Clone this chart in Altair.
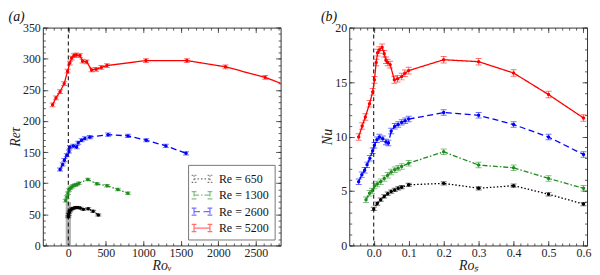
import altair as alt
import pandas as pd

SERIF = "Liberation Serif"
SERIES = ["Re = 650", "Re = 1300", "Re = 2600", "Re = 5200"]
COLORS = ["#000000", "#1e8c1e", "#0000ff", "#ff0000"]
DASHES = [[1.5, 2], [5, 2, 1.5, 2], [6, 3.5], [1, 0]]

# ---- panel (a): Ro_V vs Re_tau ----
a650_x = [0, 5, 15, 30, 50, 75, 100, 130, 160, 200, 265, 330, 400]
a650_y = [46, 50, 54, 57, 59, 60, 61, 61, 60, 58, 59, 55, 49]
a1300_x = [-35, -20, -5, 10, 25, 45, 65, 90, 115, 140, 260, 380, 515, 660, 795]
a1300_y = [72, 78, 84, 89, 92, 94, 96, 97, 98, 100, 106, 99, 96, 90, 84]
a2600_x = [-110, -75, -53, -21, 9, 22, 66, 111, 132, 177, 221, 287, 530, 795, 1040, 1300, 1570]
a2600_y = [122, 130, 137, 145, 151, 158, 160, 158, 165, 169, 172, 174, 178, 176, 169, 160, 148]
a5200_x = [-210, -165, -110, -55, -10, 20, 45, 75, 105, 155, 190, 245, 310, 370, 440, 515,
           1035, 1580, 2095, 2625, 3150]
a5200_y = [226, 237, 247, 260, 280, 293, 301, 305, 306, 305, 296, 295, 282, 283, 286, 289,
           297, 297, 287, 270, 246]
a_err = [1.5, 2, 2.5, 3]
shade_x = [-35, 35]
shade_y = [0, 70]

# ---- panel (b): Ro_S vs Nu ----
b650_x = [0.0, 0.01, 0.02, 0.03, 0.04, 0.05, 0.06, 0.07, 0.08, 0.1, 0.2, 0.3, 0.4, 0.5, 0.6]
b650_y = [3.35, 3.85, 4.2, 4.5, 4.75, 4.95, 5.1, 5.25, 5.35, 5.57, 5.7, 5.25, 5.49, 4.7, 3.8]
b1300_x = [-0.022, -0.012, -0.005, 0.002, 0.01, 0.02, 0.03, 0.04, 0.05, 0.06, 0.07, 0.08,
           0.1, 0.2, 0.3, 0.4, 0.5, 0.6]
b1300_y = [4.2, 4.8, 5.0, 5.45, 5.65, 5.85, 6.15, 6.45, 6.75, 6.95, 7.1, 7.25,
           7.55, 8.6, 7.38, 7.13, 6.15, 5.25]
b2600_x = [-0.043, -0.034, -0.026, -0.019, -0.011, -0.003, 0.002, 0.009, 0.016, 0.026, 0.035,
           0.042, 0.05, 0.06, 0.07, 0.08, 0.09, 0.1, 0.2, 0.3, 0.4, 0.5, 0.6]
b2600_y = [5.85, 6.5, 6.9, 7.4, 8.0, 8.7, 9.2, 9.7, 9.95, 9.8, 9.5,
           9.4, 10.5, 10.95, 11.1, 11.3, 11.45, 11.6, 12.2, 11.95, 11.1, 9.95, 8.35]
b5200_x = [-0.043, -0.033, -0.024, -0.012, -0.003, 0.002, 0.007, 0.011, 0.016, 0.024, 0.03,
           0.035, 0.04, 0.047, 0.059, 0.068, 0.08, 0.089, 0.1, 0.2, 0.3, 0.4, 0.5, 0.6]
b5200_y = [9.96, 10.97, 11.8, 13.0, 14.1, 15.2, 16.8, 17.7, 17.95, 18.2, 17.6,
           17.0, 16.8, 16.6, 15.2, 15.3, 15.5, 15.8, 16.05, 17.05, 16.87, 15.83, 13.85, 11.7]
b_err = [0.15, 0.25, 0.25, 0.3]

zero_x = [0]

a_xmaj = [0, 500, 1000, 1500, 2000, 2500]
a_xmin = list(range(-300, 2900, 100))
a_ymaj = [0, 50, 100, 150, 200, 250, 300, 350]
a_ymin = list(range(0, 360, 10))
b_xmaj = [0.0, 0.1, 0.2, 0.3, 0.4, 0.5, 0.6]
b_xmin = [round(-0.06 + 0.02 * i, 2) for i in range(34)]
b_ymaj = [0, 5, 10, 15, 20]
b_ymin = list(range(0, 21))

LEG_PATH = ("M-1,-0.45V0.45M-1.3,-0.45H-0.7M-1.3,0.45H-0.7M-1,0H1"
            "M1,-0.45V0.45M0.7,-0.45H1.3M0.7,0.45H1.3")


def frame(xs_list, ys_list, errs):
    rows = []
    for name, xs, ys, e in zip(SERIES, xs_list, ys_list, errs):
        for x, y in zip(xs, ys):
            rows.append(dict(series=name, x=x, y=y, lo=y - e, hi=y + e))
    return pd.DataFrame(rows)


def axis(orient, values, major, labels=False, title=None, fmt=None):
    kw = dict(orient=orient, values=values, grid=False, domain=False, ticks=True,
              tickSize={"expr": "-5" if major else "-2.5"}, tickColor="#333",
              tickWidth=0.8, labels=labels, title=title)
    if labels:
        kw.update(labelPadding=7.5, labelFont=SERIF, labelFontSize=12, labelColor="#222",
                  titleFont=SERIF, titleFontSize=14, titleFontStyle="italic",
                  titleFontWeight="normal", titleColor="#222", titlePadding=0)
        if fmt:
            kw["format"] = fmt
    return alt.Axis(**kw)


def color_enc(cscale, legend, main):
    if main:
        return alt.Color("series:N", scale=cscale, sort=SERIES, legend=legend)
    if legend is None:
        return alt.Color("series:N", scale=cscale, sort=SERIES, legend=None)
    return alt.Color("series:N", scale=cscale, sort=SERIES)


def panel(df, xdom, ydom, xmaj, xmin, ymaj, ymin, xtitle, ytitle, xfmt, label,
          legend, extra):
    xs = alt.Scale(domain=xdom, nice=False, zero=False)
    ys = alt.Scale(domain=ydom, nice=False, zero=False)
    cscale = alt.Scale(domain=SERIES, range=COLORS)
    dscale = alt.Scale(domain=SERIES, range=DASHES)
    base = alt.Chart(df)

    lines = base.mark_line(strokeWidth=1.3, clip=True).encode(
        x=alt.X("x:Q", scale=xs, axis=axis("bottom", xmaj, True, True, xtitle, xfmt)),
        y=alt.Y("y:Q", scale=ys, axis=axis("left", ymaj, True, True, ytitle)),
        color=color_enc(cscale, legend, True),
        strokeDash=alt.StrokeDash("series:N", scale=dscale, sort=SERIES, legend=legend),
        order="x:Q",
    )
    pts = base.mark_point(filled=True, size=12, opacity=1, clip=True).encode(
        x=alt.X("x:Q", scale=xs, axis=axis("bottom", xmin, False)),
        y=alt.Y("y:Q", scale=ys, axis=axis("left", ymin, False)),
        color=color_enc(cscale, legend, False),
    )
    bars = base.mark_rule(strokeWidth=1, opacity=0.55, clip=True).encode(
        x=alt.X("x:Q", scale=xs, axis=axis("top", xmin, False)),
        y=alt.Y("lo:Q", scale=ys, axis=axis("right", ymin, False)),
        y2="hi:Q",
        color=color_enc(cscale, legend, False),
    )
    cap_lo = base.mark_tick(orient="horizontal", size=6, thickness=1, opacity=0.55,
                            clip=True).encode(
        x=alt.X("x:Q", scale=xs, axis=None),
        y=alt.Y("lo:Q", scale=ys, axis=None),
        color=color_enc(cscale, legend, False),
    )
    cap_hi = base.mark_tick(orient="horizontal", size=6, thickness=1, opacity=0.55,
                            clip=True).encode(
        x=alt.X("x:Q", scale=xs, axis=None),
        y=alt.Y("hi:Q", scale=ys, axis=None),
        color=color_enc(cscale, legend, False),
    )
    zl = alt.Chart(pd.DataFrame({"x": zero_x})).mark_rule(
        color="black", strokeDash=[4, 3], strokeWidth=1).encode(
        x=alt.X("x:Q", scale=xs, axis=axis("top", xmaj, True)),
        y=alt.value(0), y2=alt.value("height"),
    )
    zl2 = alt.Chart(pd.DataFrame({"x": zero_x, "y": [ymaj[0]]})).mark_point(
        opacity=0).encode(
        x=alt.X("x:Q", scale=xs, axis=None),
        y=alt.Y("y:Q", scale=ys, axis=axis("right", ymaj, True)),
    )
    layers = [l(xs, ys) for l in extra] + [zl, zl2, bars, cap_lo, cap_hi, lines, pts]
    return alt.layer(*layers).resolve_axis(x="independent", y="independent").properties(
        width=239, height=219,
        title=alt.Title(label, anchor="start", font=SERIF, fontSize=14,
                        fontStyle="italic", fontWeight="normal", offset=-2, color="#111"),
    )


def shade(xs, ys):
    d = pd.DataFrame({"x": [shade_x[0]], "x2": [shade_x[1]],
                      "y": [shade_y[0]], "y2": [shade_y[1]]})
    return alt.Chart(d).mark_rect(color="#999999", opacity=0.75).encode(
        x=alt.X("x:Q", scale=xs, axis=None), x2="x2:Q",
        y=alt.Y("y:Q", scale=ys, axis=None), y2="y2:Q",
    )


df_a = frame([a650_x, a1300_x, a2600_x, a5200_x], [a650_y, a1300_y, a2600_y, a5200_y], a_err)
df_b = frame([b650_x, b1300_x, b2600_x, b5200_x], [b650_y, b1300_y, b2600_y, b5200_y], b_err)

leg = alt.Legend(title=None, orient="bottom-right", offset=6, symbolType=LEG_PATH,
                 symbolSize=256, symbolStrokeWidth=1.2, symbolFillColor="transparent",
                 labelFont=SERIF, labelFontSize=12, labelColor="#111",
                 strokeColor="#777", fillColor="white", padding=5, rowPadding=1.5,
                 labelOffset=8)

pa = panel(df_a, [-340, 2830], [0, 350], a_xmaj, a_xmin, a_ymaj, a_ymin,
           "Roᵥ", "Reτ", "d", "(a)", leg, [shade])
pb = panel(df_b, [-0.07, 0.61], [0, 20], b_xmaj, b_xmin, b_ymaj, b_ymin,
           "Roₛ", "Nu", ".1f", "(b)", None, [])

chart = alt.hconcat(pa, pb, spacing=39).resolve_scale(
    color="independent", strokeDash="independent").resolve_legend(
    color="independent", strokeDash="independent").properties(
    padding={"left": 0, "top": 0, "right": 0, "bottom": 0}
).configure(font=SERIF).configure_view(stroke="#333", strokeWidth=1).configure_axis(
    labelFont=SERIF, titleFont=SERIF,
).configure_legend(labelFont=SERIF)

chart.save("out.html", embed_options={"renderer": "svg", "actions": False})
